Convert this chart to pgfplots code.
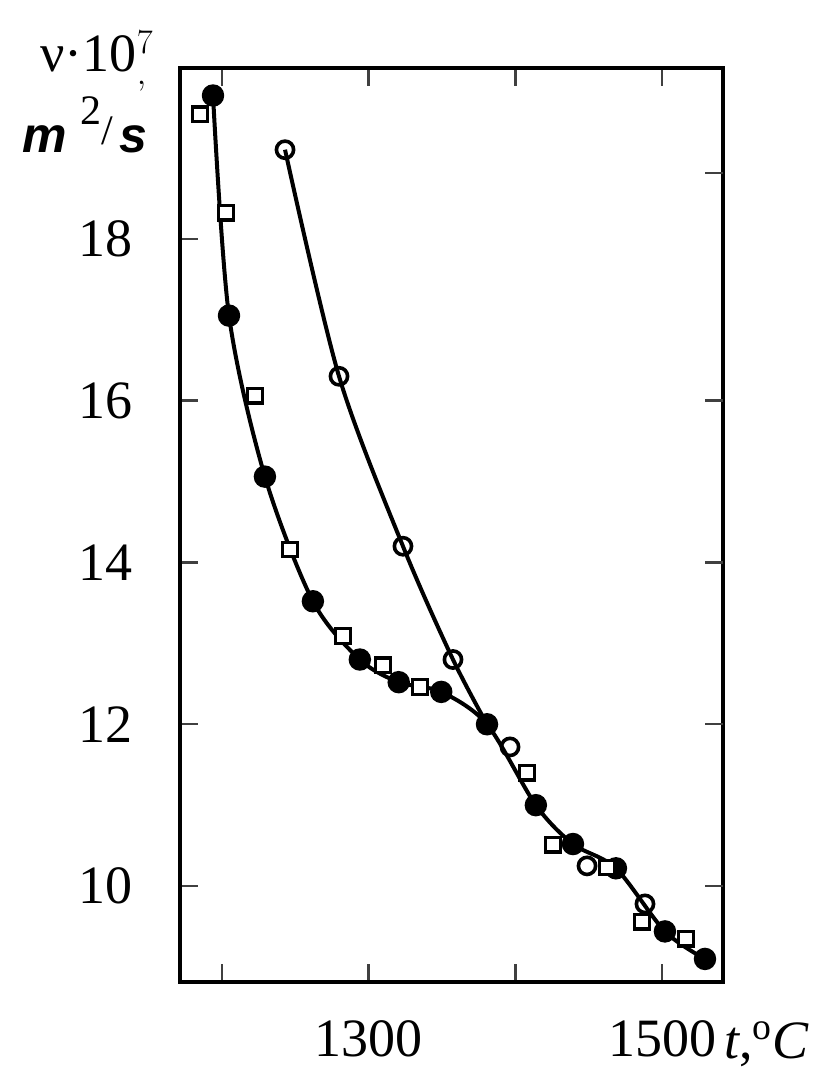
\documentclass[border=0pt]{standalone}
\usepackage{fontspec}
\setmainfont{Liberation Serif}
\newfontfamily\arialf{Liberation Sans}
\usepackage{pgfplots}
\pgfplotsset{compat=1.18}
\begin{document}
\begin{tikzpicture}
\path[use as bounding box] (-90pt,-46pt) rectangle (328.5pt,491pt);
\begin{axis}[
  at={(0,0)}, anchor=south west,
  width=271.5pt, height=457pt, scale only axis,
  xmin=1171.4, xmax=1541.6, ymin=8.815, ymax=20.11,
  xtick={1200,1300,1400,1500}, xticklabels={,1300,,1500},
  ytick={10,12,14,16,18}, ytick pos=left,
  tick align=inside, major tick length=9pt,
  axis line style={line width=2pt},
  tick style={line width=1.2pt, black!75},
  ticklabel style={font=\fontsize{27}{27}\selectfont},
  /pgf/number format/assume math mode=true,
  /pgf/number format/set thousands separator={},
  xticklabel style={yshift=-16pt},
  yticklabel style={xshift=-20pt},
  clip=false,
]
% filled-circle series, with its curve
\addplot[line width=2pt, smooth, tension=0.5, mark=*, mark size=4.6pt,
  mark options={fill=black}] coordinates {
 (1193.9,19.77) (1204.8,17.05) (1229.3,15.06) (1262.0,13.52) (1294.0,12.80)
 (1320.5,12.52) (1349.5,12.40) (1380.7,12.00) (1414.0,11.00) (1439.3,10.52)
 (1468.6,10.22) (1502.0,9.44) (1529.3,9.10)};
% open-circle curve
\addplot[line width=2pt, smooth, tension=0.5] coordinates {
 (1243.0,19.10) (1279.8,16.30) (1323.4,14.20) (1357.5,12.80) (1380.7,12.00)};
% open circles
\addplot[only marks, mark=o, mark size=4.3pt, mark options={line width=1.8pt, fill=white}] coordinates {
 (1243.0,19.10) (1279.8,16.30) (1323.4,14.20) (1357.5,12.80)
 (1396.4,11.72) (1448.9,10.25) (1488.4,9.78)};
% squares
\addplot[only marks, mark=square*, mark size=3.6pt, mark options={line width=1.6pt, fill=white, draw=black}] coordinates {
 (1185.0,19.54) (1202.7,18.32) (1222.5,16.06) (1246.4,14.16) (1282.5,13.09)
 (1309.8,12.73) (1335.0,12.46) (1408.0,11.40) (1425.7,10.51) (1462.5,10.23)
 (1486.4,9.56) (1516.4,9.35)};
\end{axis}
\begin{axis}[
  at={(0,0)}, anchor=south west,
  width=271.5pt, height=457pt, scale only axis,
  xmin=1171.4, xmax=1541.6, ymin=8.815, ymax=20.11,
  axis x line=none, axis y line*=right,
  axis line style={draw=none},
  ytick={10,12,14,16,18.81}, yticklabels={},
  tick align=inside, major tick length=9pt,
  tick style={line width=1.2pt, black!75},
]
\end{axis}
\node[anchor=base west, font=\fontsize{27}{27}\selectfont, inner sep=0pt] at (-70pt,455pt) {ν·10$\mathsurround=0pt^{\fontsize{18}{18}\selectfont 7}_{\fontsize{27}{27}\selectfont ,}$};
\node[anchor=base west, font=\fontsize{25}{25}\selectfont, inner sep=0pt] at (-79pt,414.5pt)
  {{\arialf\bfseries\itshape m}\hspace{7pt}\raisebox{14pt}{\fontsize{21}{21}\selectfont 2}\raisebox{4pt}{\fontsize{21}{21}\selectfont /}\hspace{3pt}{\arialf\bfseries\itshape s}};
\node[anchor=base west, font=\fontsize{27}{27}\selectfont, inner sep=0pt] at (272pt,-38pt) {\textit{t},\textsuperscript{o}\textit{C}};
\end{tikzpicture}
\end{document}
